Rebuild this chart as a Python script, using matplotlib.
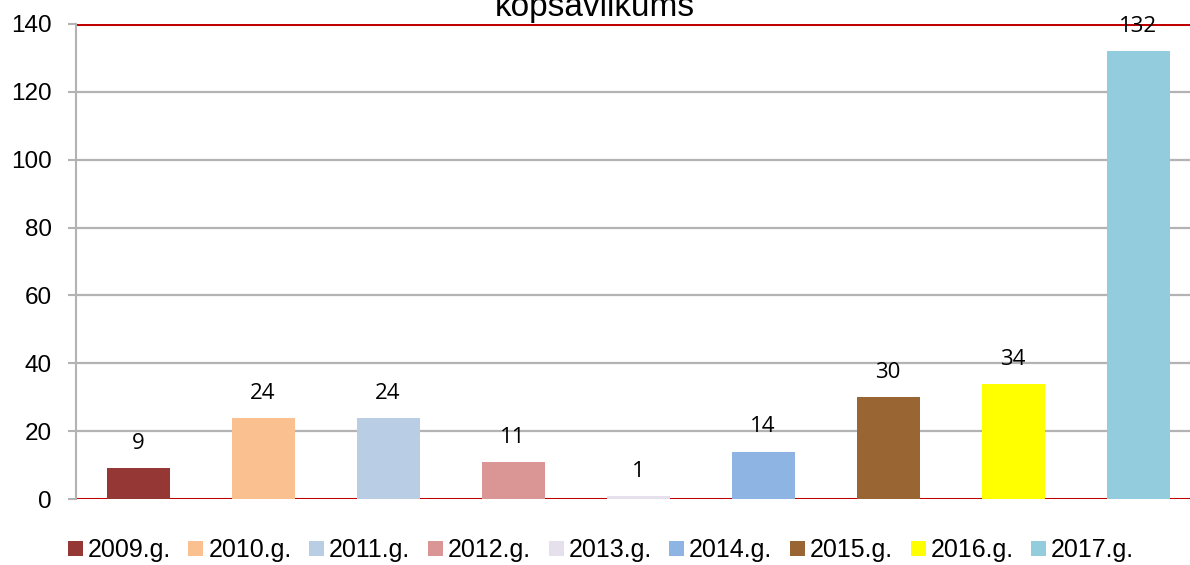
import matplotlib
matplotlib.use("Agg")
import matplotlib.pyplot as plt
from matplotlib.patches import Patch

years = ["2009.g.", "2010.g.", "2011.g.", "2012.g.", "2013.g.",
         "2014.g.", "2015.g.", "2016.g.", "2017.g."]
counts = [9, 24, 24, 11, 1, 14, 30, 34, 132]
colors = ["#953735", "#FAC090", "#B9CDE5", "#D99694", "#E6E0EC",
          "#8EB4E3", "#996633", "#FFFF00", "#93CDDD"]
yticks = [0, 20, 40, 60, 80, 100, 120, 140]
title = "kopsavilkums"

plt.rcParams['font.family'] = ['Liberation Sans', 'DejaVu Sans']

fig = plt.figure(figsize=(11.9, 5.65), dpi=100)
ax = fig.add_axes([75.5 / 1190, 1 - 499 / 565, 1125 / 1190, 475 / 565])

x = list(range(len(counts)))
ax.bar(x, counts, width=0.504, color=colors, zorder=3)

# gridlines; the 0 and 140 lines are red in the original
for t in yticks:
    if t in (0, 140):
        ax.axhline(t, color="#C00000", lw=2.2, zorder=2)
    else:
        ax.axhline(t, color="#B3B3B3", lw=1.6, zorder=1)

for xi, v in zip(x, counts):
    ax.annotate(str(v), (xi, v), xytext=(0, 13.7), textcoords="offset points",
                ha="center", va="baseline", fontsize=16, family="Open Sans",
                color="black", zorder=4)

ax.set_xlim(-0.5, len(counts) - 0.5)
ax.set_ylim(0, 140)
ax.set_yticks(yticks)
ax.set_xticks([])
ax.tick_params(axis="y", length=6, width=1.5, color="#B3B3B3", pad=11,
               labelsize=17.5)
for s in ("top", "right", "bottom"):
    ax.spines[s].set_visible(False)
ax.spines["left"].set_color("#B3B3B3")
ax.spines["left"].set_linewidth(1.5)

fig.text(0.5, 1 - 16 / 565, title, ha="center", va="baseline", fontsize=24)

handles = [Patch(facecolor=c, edgecolor="none") for c in colors]
fig.legend(handles, years, loc="center", bbox_to_anchor=(601 / 1190, 1 - 550 / 565),
           ncol=len(years), frameon=False, fontsize=18, handlelength=0.6,
           handleheight=0.56, handletextpad=0.2, columnspacing=0.7,
           borderpad=0, borderaxespad=0)

fig.savefig("out.png", dpi=100)
